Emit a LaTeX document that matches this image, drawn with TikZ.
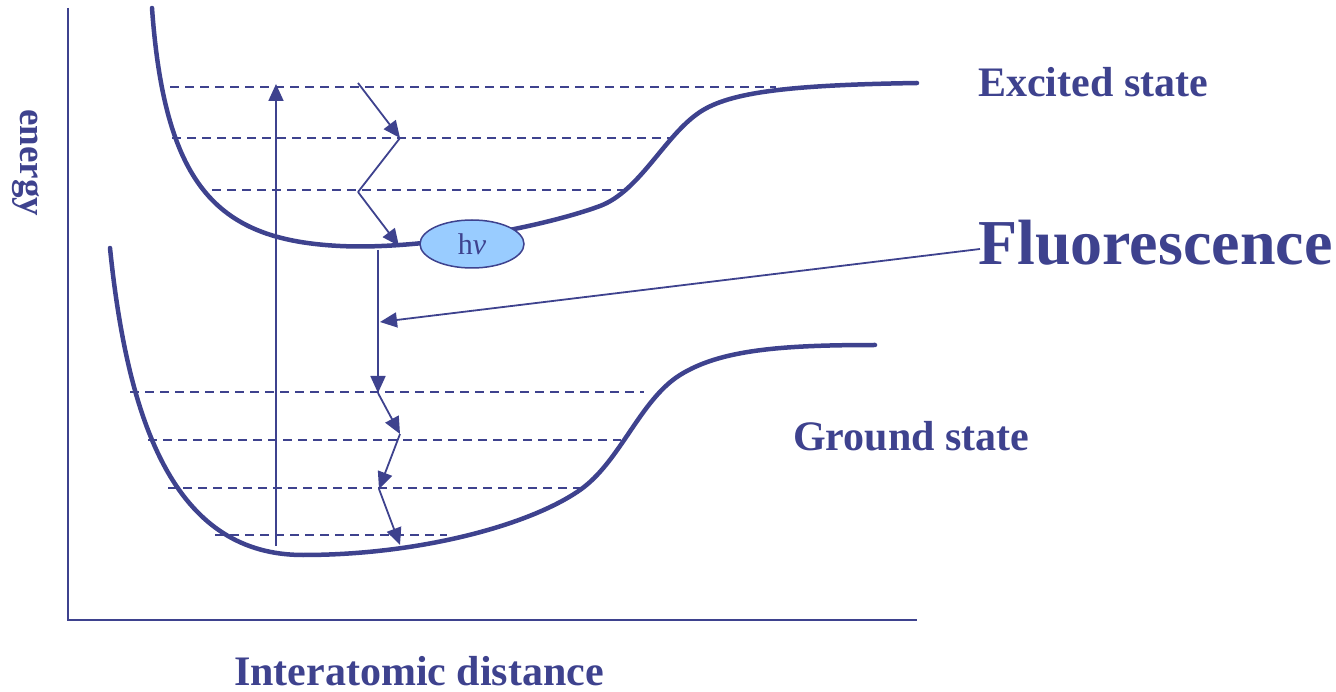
\documentclass[tikz,border=0pt]{standalone}
\usepackage{fontspec}
\setmainfont{Liberation Serif}
\usetikzlibrary{arrows.meta,shapes.geometric}
\definecolor{ink}{RGB}{62,66,142}
\definecolor{bubble}{RGB}{153,204,255}
\begin{document}
\begin{tikzpicture}[x=1pt,y=-1pt,
  curve/.style={ink, line width=4.5pt, line cap=round},
  level/.style={ink, line width=1.5pt, dash pattern=on 9pt off 6pt},
  arr/.style={ink, line width=1.8pt, -{Triangle[length=17pt,width=15pt]}},
  thin/.style={ink, line width=1.8pt},
  lbl/.style={ink, font=\bfseries\fontsize{42}{50}\selectfont, inner sep=0pt, anchor=base west}]
\useasboundingbox (0,0) rectangle (1336,692);

% axes
\draw[ink, line width=2pt] (68,8) -- (68,620) -- (917,620);

% excited-state levels
\draw[level] (170,87) -- (776,87);
\draw[level] (172,138) -- (670,138);
\draw[level] (212,190) -- (630,190);
% ground-state levels
\draw[level] (130,392) -- (644,392);
\draw[level] (148,440) -- (621,440);
\draw[level] (168,488) -- (584,488);
\draw[level] (215,535) -- (447,535);

% potential curves
\draw[curve] (152,8) .. controls (165,190) and (220,240) .. (340,246)
  .. controls (420,250) and (540,228) .. (600,206)
  .. controls (640,191) and (665,135) .. (700,112)
  .. controls (730,92) and (790,85) .. (917,83);
\draw[curve] (110,248) .. controls (129,435) and (180,555) .. (303,555)
  .. controls (420,555) and (530,525) .. (580,490)
  .. controls (620,462) and (640,400) .. (680,375)
  .. controls (720,350) and (780,345) .. (875,345);

% photon bubble
\node[draw=ink, fill=bubble, line width=1.5pt, ellipse, minimum width=104pt, minimum height=48pt, inner sep=0pt, text=ink, font=\fontsize{30}{34}\selectfont] (hv) at (472,244) {h\textit{ν}};

% absorption arrow
\coordinate (a0) at (276,546);
\coordinate (a1) at (276,84);
\draw[arr] (a0) -- (a1);

% excited-state relaxation
\coordinate (e0) at (358,83);
\coordinate (e1) at (400,138);
\coordinate (e2) at (358,192);
\coordinate (e3) at (399,246);
\draw[arr] (e0) -- (e1);
\draw[thin] (e1) -- (e2);
\draw[arr] (e2) -- (e3);

% fluorescence emission
\coordinate (f0) at (378,250);
\coordinate (f1) at (378,393);
\draw[arr] (f0) -- (f1);

% ground-state relaxation
\coordinate (g1) at (400,434);
\coordinate (g2) at (379,489);
\coordinate (g3) at (400,545);
\draw[arr] (f1) -- (g1);
\draw[arr] (g1) -- (g2);
\draw[arr] (g2) -- (g3);

% labels
\node[lbl] (exc) at (978,97) {Excited state};
\node[lbl] (gnd) at (793,450) {Ground state};
\node[lbl] (dist) at (234,685) {Interatomic distance};
\node[lbl, font=\bfseries\fontsize{64}{70}\selectfont] (flu) at (978,265) {Fluorescence};
\node[lbl, font=\bfseries\fontsize{37}{42}\selectfont, rotate=-90] (en) at (20,109) {energy};

% pointer from label
\coordinate (fs) at (980,249);
\coordinate (ft) at (380,322);
\draw[arr] (fs) -- (ft);
\end{tikzpicture}
\end{document}
